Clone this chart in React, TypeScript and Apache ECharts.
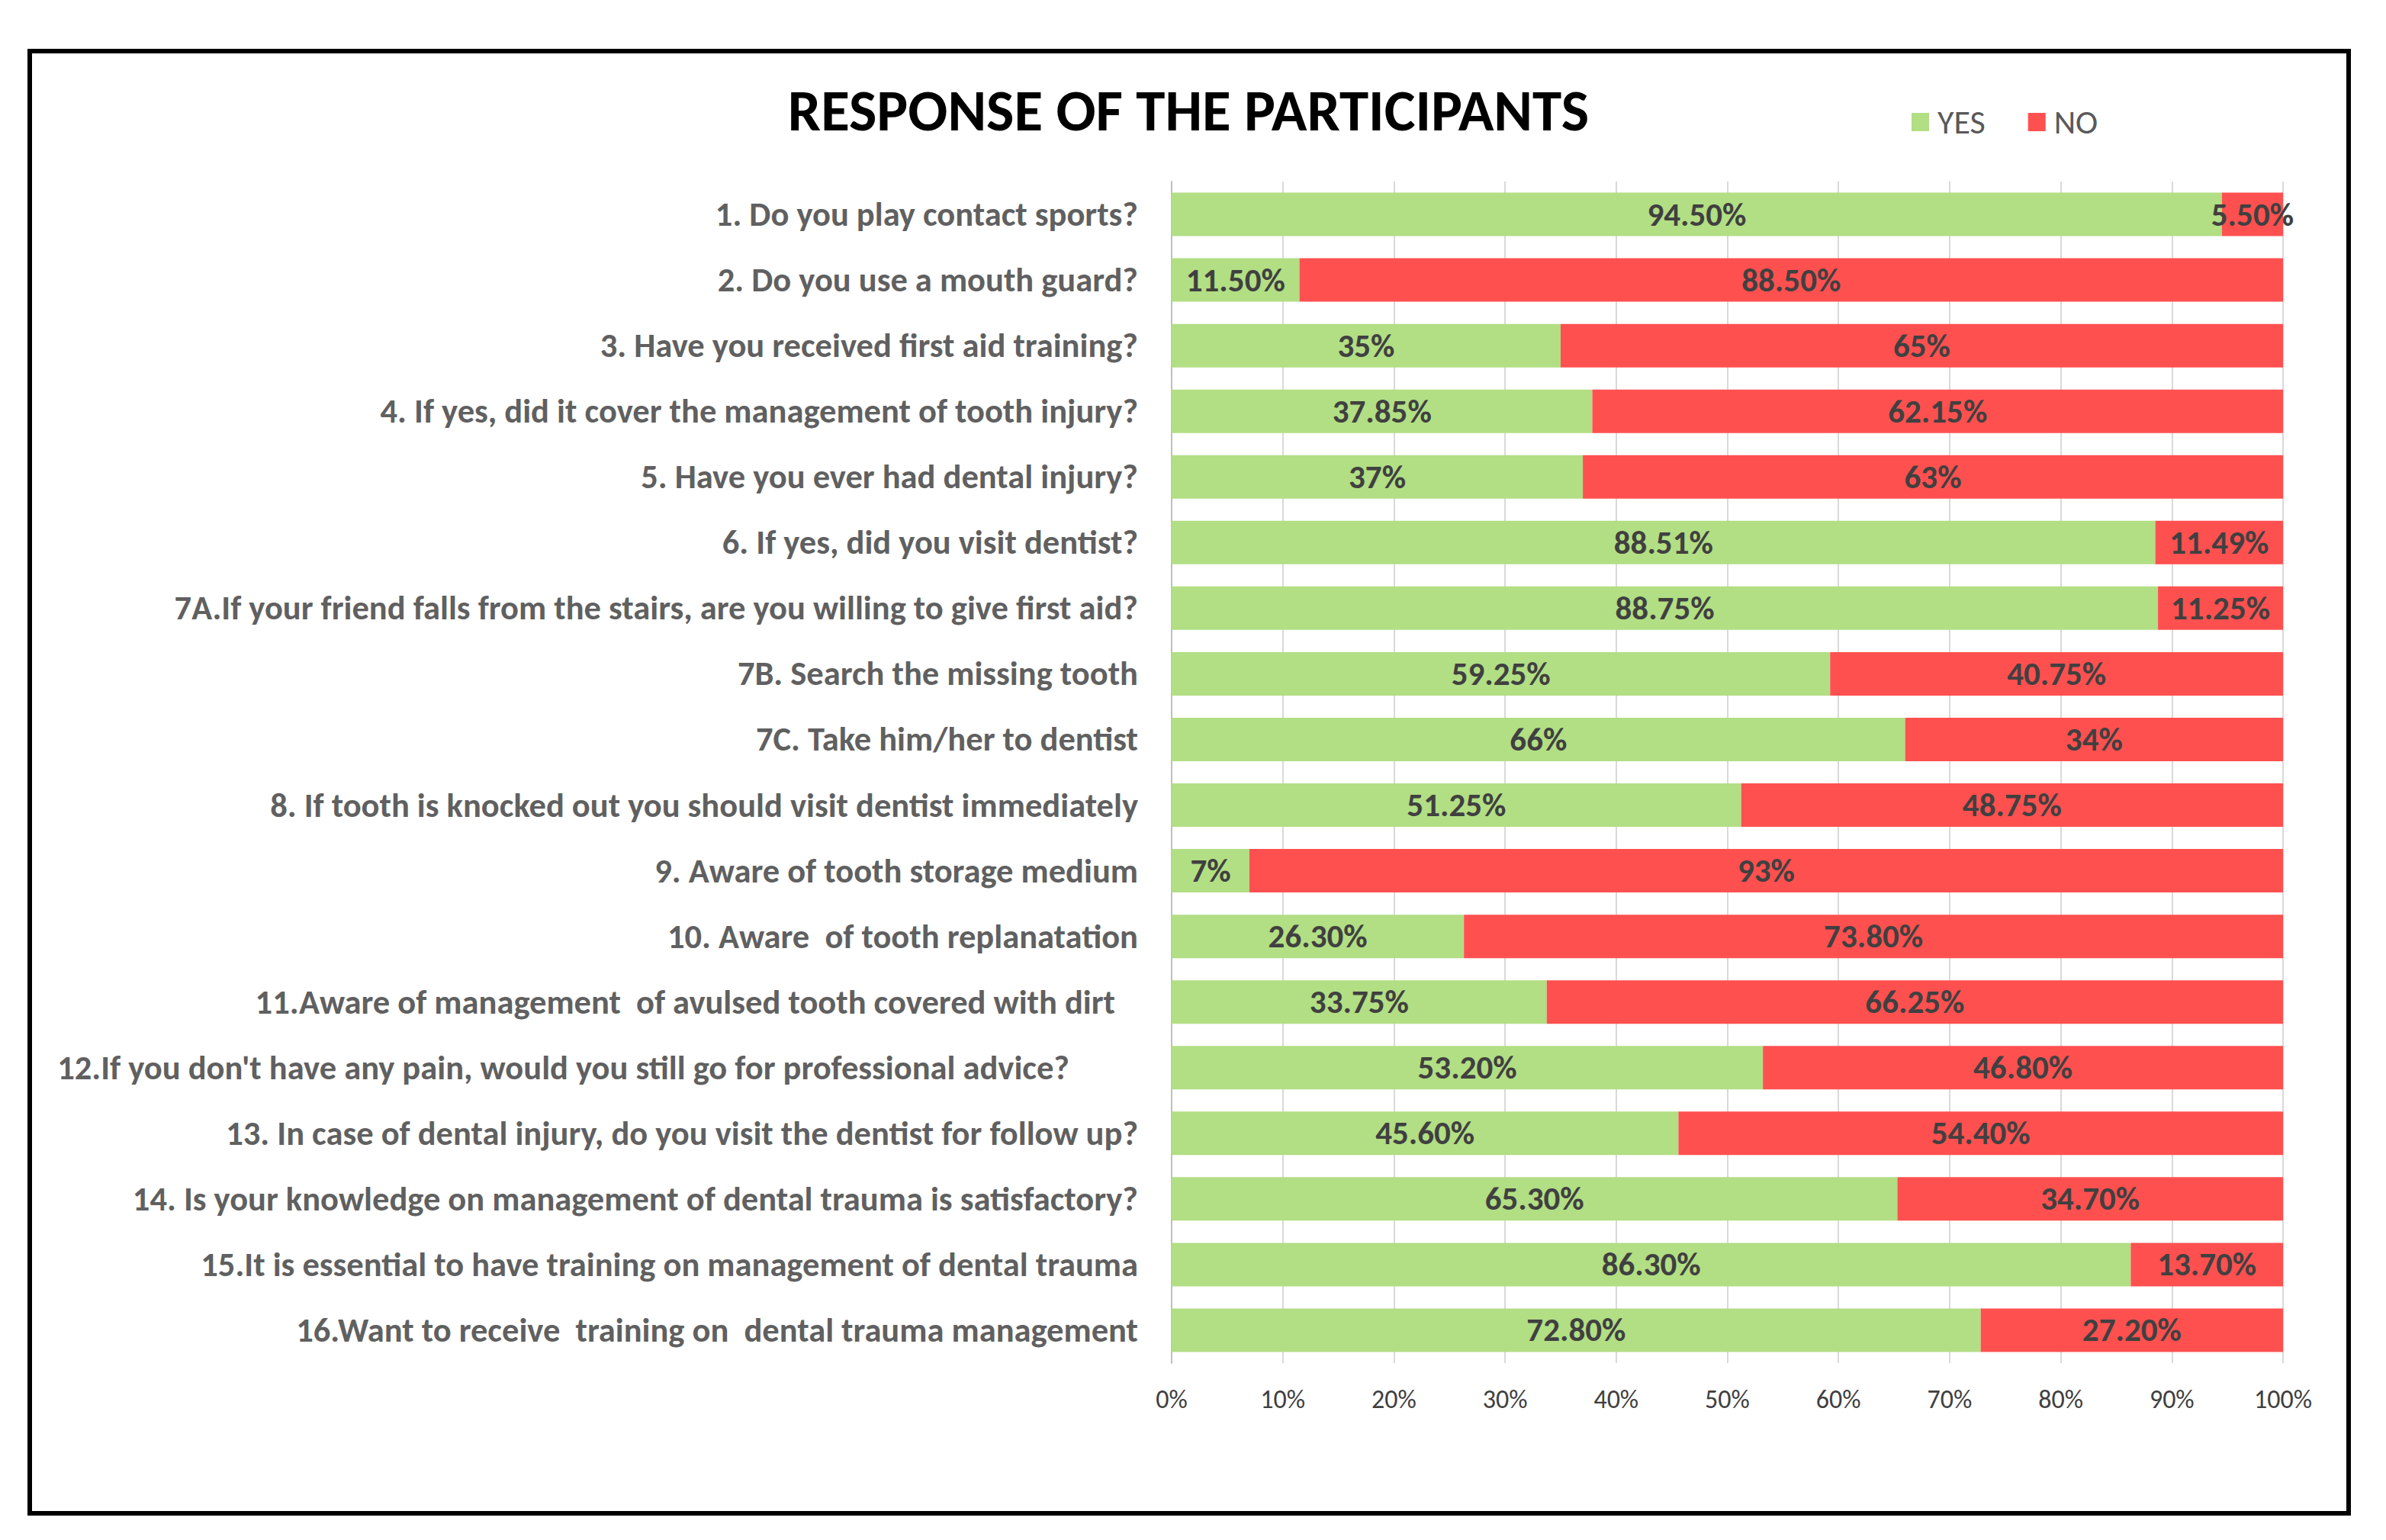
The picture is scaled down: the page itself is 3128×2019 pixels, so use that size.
import React, { useEffect, useRef } from "react";
import * as echarts from "echarts";

const categories = [
  "1. Do you play contact sports?",
  "2. Do you use a mouth guard?",
  "3. Have you received first aid training?",
  "4. If yes, did it cover the management of tooth injury?",
  "5. Have you ever had dental injury?",
  "6. If yes, did you visit dentist?",
  "7A.If your friend falls from the stairs, are you willing to give first aid?",
  "7B. Search the missing tooth",
  "7C. Take him/her to dentist",
  "8. If tooth is knocked out you should visit dentist immediately",
  "9. Aware of tooth storage medium",
  "10. Aware  of tooth replanatation",
  "11.Aware of management  of avulsed tooth covered with dirt",
  "12.If you don't have any pain, would you still go for professional advice?",
  "13. In case of dental injury, do you visit the dentist for follow up?",
  "14. Is your knowledge on management of dental trauma is satisfactory?",
  "15.It is essential to have training on management of dental trauma",
  "16.Want to receive  training on  dental trauma management",
];

const yesValues = [94.5, 11.5, 35, 37.85, 37, 88.51, 88.75, 59.25, 66, 51.25, 7, 26.3, 33.75, 53.2, 45.6, 65.3, 86.3, 72.8];
const noValues = [5.5, 88.5, 65, 62.15, 63, 11.49, 11.25, 40.75, 34, 48.75, 93, 73.8, 66.25, 46.8, 54.4, 34.7, 13.7, 27.2];

const FONT = "Carlito, 'Liberation Sans Narrow', 'DejaVu Sans Condensed', sans-serif";

const fmt = (v: number) => (Number.isInteger(v) ? `${v}%` : `${v.toFixed(2)}%`);

export default function App() {
  const ref = useRef<HTMLDivElement>(null);
  useEffect(() => {
    document.body.style.margin = "0";
    const chart = echarts.init(ref.current!, null, { renderer: "svg" });
    const labelPad: Record<number, number> = { 12: 30, 13: 90 };
    const dataLabel = {
      show: true,
      position: "inside",
      formatter: (p: any) => fmt(p.value),
      fontFamily: FONT,
      fontSize: 43,
      fontWeight: "bold",
      color: "#404040",
    };
    chart.setOption({
      animation: false,
      backgroundColor: "#ffffff",
      title: {
        text: "RESPONSE OF THE PARTICIPANTS",
        left: 1553,
        top: 140,
        textAlign: "center",
        textVerticalAlign: "middle",
        textStyle: { fontFamily: FONT, fontWeight: "bold", fontSize: 77, color: "#000000" },
      },
      legend: {
        left: 2506,
        top: 138,
        itemWidth: 23,
        itemHeight: 24,
        itemGap: 56,
        padding: 0,
        icon: "rect",
        textStyle: { fontFamily: FONT, fontSize: 44, color: "#595959", padding: [0, 0, 0, 6] },
        data: ["YES", "NO"],
      },
      graphic: [
        {
          type: "rect",
          shape: { x: 39, y: 67, width: 3040, height: 1917 },
          style: { fill: "none", stroke: "#000000", lineWidth: 6 },
          silent: true,
        },
      ],
      grid: { left: 1536, right: 135, top: 238, bottom: 232, containLabel: false },
      xAxis: {
        type: "value",
        min: 0,
        max: 100,
        interval: 10,
        axisLine: { show: false },
        axisTick: { show: false },
        splitLine: { show: true, lineStyle: { color: "#D9D9D9", width: 2 } },
        axisLabel: {
          formatter: (v: number) => `${v}%`,
          fontFamily: FONT,
          fontSize: 34,
          color: "#404040",
          margin: 30,
        },
      },
      yAxis: {
        type: "category",
        inverse: true,
        data: categories.map((c, i) => ({
          value: c,
          textStyle: labelPad[i] ? { padding: [0, labelPad[i], 0, 0] } : {},
        })),
        axisLine: { show: true, lineStyle: { color: "#BFBFBF", width: 2 } },
        axisTick: { show: false },
        axisLabel: {
          fontFamily: FONT,
          fontSize: 44.5,
          fontWeight: "bold",
          color: "#606060",
          margin: 44,
        },
      },
      series: [
        {
          name: "YES",
          type: "bar",
          stack: "total",
          barWidth: 57,
          data: yesValues,
          itemStyle: { color: "#B2DE84" },
          label: dataLabel,
        },
        {
          name: "NO",
          type: "bar",
          stack: "total",
          barWidth: 57,
          data: noValues,
          itemStyle: { color: "#FF5050" },
          label: dataLabel,
        },
      ],
    });
    return () => chart.dispose();
  }, []);
  return <div ref={ref} style={{ width: 3128, height: 2019 }} />;
}
